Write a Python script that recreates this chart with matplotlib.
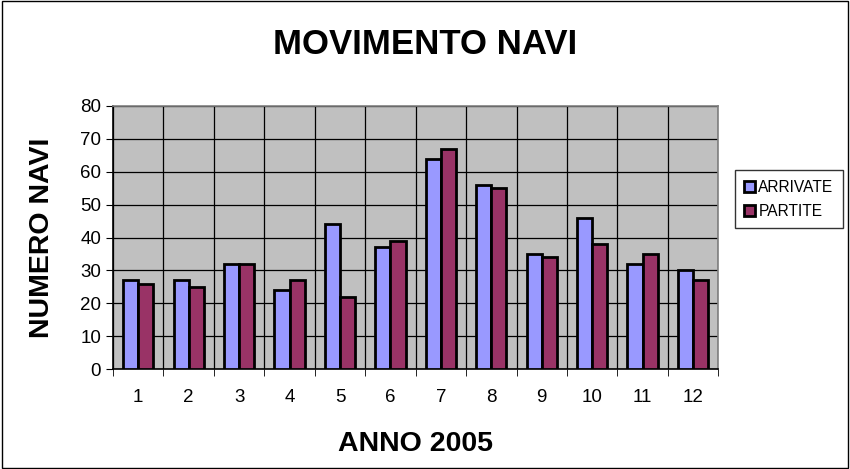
import numpy as np
import matplotlib.pyplot as plt

plt.rcParams['font.family'] = ['Liberation Sans', 'DejaVu Sans']

mesi = ['1', '2', '3', '4', '5', '6', '7', '8', '9', '10', '11', '12']
arrivate = [27, 27, 32, 24, 44, 37, 64, 56, 35, 46, 32, 30]
partite = [26, 25, 32, 27, 22, 39, 67, 55, 34, 38, 35, 27]

fig = plt.figure(figsize=(8.5, 4.69), dpi=100)
ax = fig.add_axes([0.133, 0.213, 0.712, 0.561])

x = np.arange(len(mesi))
w = 0.3
ax.bar(x - w / 2, arrivate, w, color='#9999FF', edgecolor='black', linewidth=2,
       label='ARRIVATE', zorder=3)
ax.bar(x + w / 2, partite, w, color='#993366', edgecolor='black', linewidth=2,
       label='PARTITE', zorder=3)

ax.set_facecolor('#C0C0C0')
ax.set_xlim(-0.5, len(mesi) - 0.5)
ax.set_ylim(0, 80)
ax.set_yticks(range(0, 81, 10))
ax.set_xticks(x)
ax.set_xticklabels(mesi)
ax.set_xticks(np.arange(-0.5, len(mesi)), minor=True)
ax.tick_params(axis='x', which='major', length=0, labelsize=13.5, pad=14)
ax.tick_params(axis='x', which='minor', length=5, direction='out')
ax.tick_params(axis='y', length=5, labelsize=13.5)
ax.grid(True, axis='y', color='black', linewidth=0.9, zorder=0)
ax.grid(True, axis='x', which='minor', color='black', linewidth=0.9, zorder=0)
for s in ax.spines.values():
    s.set_color('#808080')
    s.set_linewidth(1.2)
ax.spines['left'].set_color('black')
ax.spines['bottom'].set_color('black')

fig.text(0.5, 0.905, 'MOVIMENTO NAVI', ha='center', va='center',
         fontsize=25, fontweight='bold')
ax.set_xlabel('ANNO 2005', fontsize=20.5, fontweight='bold', labelpad=18)
ax.set_ylabel('NUMERO NAVI', fontsize=20.5, fontweight='bold', labelpad=18)

leg = ax.legend(loc='center left', bbox_to_anchor=(1.015, 0.645), fontsize=11.2,
                frameon=True, fancybox=False, edgecolor='black',
                handlelength=0.7, handleheight=0.7, handletextpad=0.2,
                borderpad=0.6, labelspacing=0.6)
leg.get_frame().set_linewidth(1.0)

fig.patches.append(plt.Rectangle((0.002, 0.003), 0.996, 0.994, transform=fig.transFigure,
                                 fill=False, edgecolor='black', linewidth=1))

fig.savefig('out.png', dpi=100)
